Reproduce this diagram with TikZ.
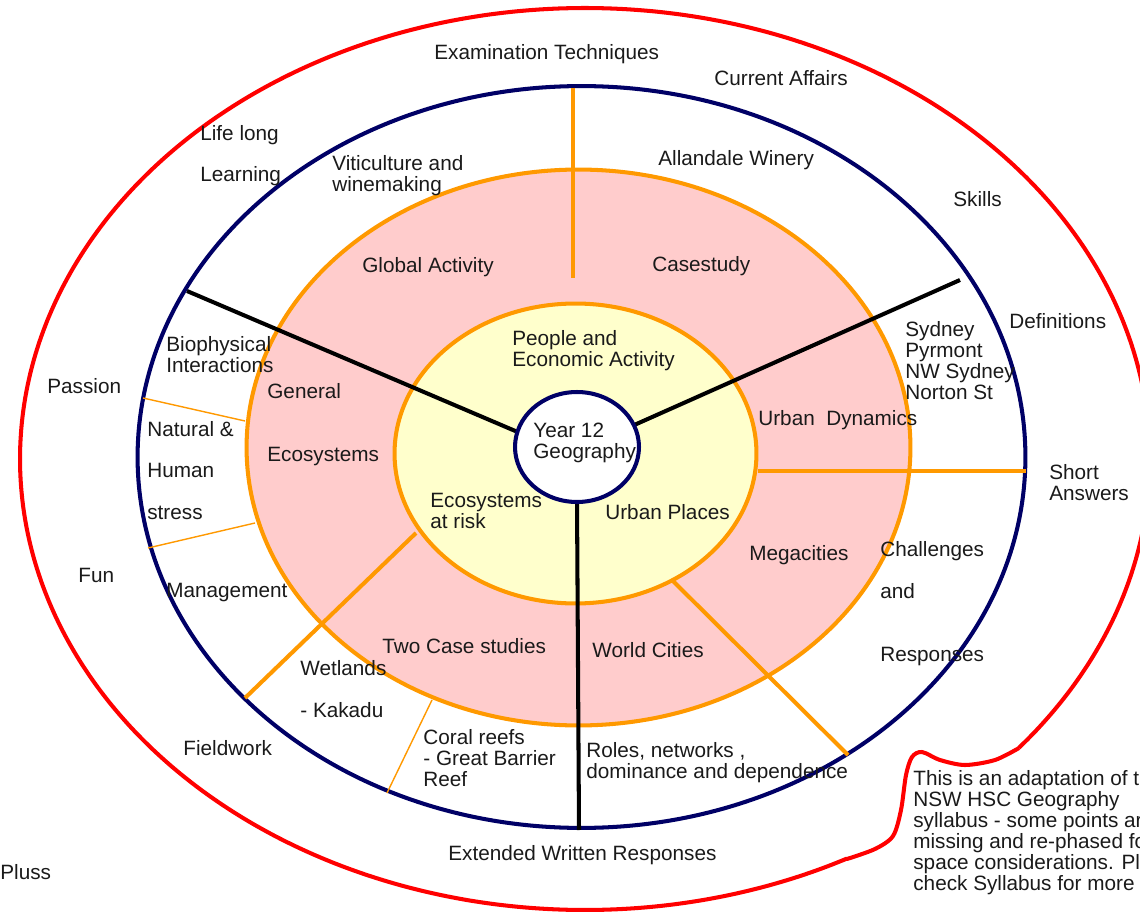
\documentclass[tikz,border=0pt]{standalone}
\usepackage{fontspec}
\setmainfont{Liberation Sans}
\definecolor{redline}{HTML}{FF0000}
\definecolor{navyline}{HTML}{000066}
\definecolor{orng}{HTML}{FF9900}
\definecolor{pinkf}{HTML}{FFCCCC}
\definecolor{yellowf}{HTML}{FFFFCC}
\definecolor{txt}{HTML}{1A1A1A}
\begin{document}
\begin{tikzpicture}[x=0.02cm,y=-0.02cm,
  lbl/.style={anchor=west, inner sep=0pt, align=left, text=txt,
    font=\fontsize{11.8}{12}\selectfont, text height=8.45pt, text depth=0pt},
  ring/.style={line width=2.3pt},
  spoke/.style={black, line width=2.3pt},
  divider/.style={orng, line width=2.3pt},
  thindivider/.style={orng, line width=0.8pt}]
\useasboundingbox (0,0) rectangle (1140,912);
\clip (0,0) rectangle (1140,912);
% outer red boundary
\draw[redline, ring, line join=round]
  plot[domain=-39.8:297.6, samples=240, smooth] ({585+565*cos(\x)},{459-451*sin(\x)})
  -- plot[smooth] coordinates {(847,859) (875,849) (893,836) (901,810) (906,775) (912,757) (922,752) (940,760) (965,765) (995,760) (1019,748)};
% rings
\draw[navyline, ring, fill=white] (581.5,457) ellipse [x radius=8.88cm, y radius=7.42cm];
\draw[orng, ring, fill=pinkf] (578.5,447.5) ellipse [x radius=6.64cm, y radius=5.56cm];
\draw[orng, ring, fill=yellowf] (575.5,453.5) ellipse [x radius=3.62cm, y radius=3.0cm];
% named end points
\coordinate (ta) at (573,88);   \coordinate (tb) at (573,278);
\coordinate (ra) at (758,471);  \coordinate (rb) at (1026,471);
\coordinate (la) at (416,533);  \coordinate (lb) at (245,698);
\coordinate (ma) at (672,580);  \coordinate (mb) at (848,755);
\coordinate (p1a) at (143,398); \coordinate (p1b) at (245,421);
\coordinate (p2a) at (148,548); \coordinate (p2b) at (255,523);
\coordinate (p3a) at (432,700); \coordinate (p3b) at (387,793);
\coordinate (s1a) at (187,291); \coordinate (s1b) at (520,433);
\coordinate (s2a) at (960,280); \coordinate (s2b) at (632,426);
\coordinate (s3a) at (577,500); \coordinate (s3b) at (579,830);
% orange dividers
\draw[divider] (ta) -- (tb);
\draw[divider] (ra) -- (rb);
\draw[divider] (la) -- (lb);
\draw[divider] (ma) -- (mb);
\draw[thindivider] (p1a) -- (p1b);
\draw[thindivider] (p2a) -- (p2b);
\draw[thindivider] (p3a) -- (p3b);
% black spokes
\draw[spoke] (s1a) -- (s1b);
\draw[spoke] (s2a) -- (s2b);
\draw[spoke] (s3b) -- (s3a);
% centre
\draw[navyline, ring, fill=white] (577,447) ellipse [x radius=1.24cm, y radius=1.1cm];
% labels (multi-line nodes are placed by their last line)
\node[lbl] (t1) at (434,52) {Examination Techniques};
\node[lbl] (t2) at (714,78) {Current Affairs};
\node[lbl] (t3) at (200,133) {Life long};
\node[lbl] (t4) at (200,174) {Learning};
\node[lbl] (t5) at (332,184) {Viticulture and\\winemaking};
\node[lbl] (t6) at (658,158) {Allandale Winery};
\node[lbl] (t7) at (953,199) {Skills};
\node[lbl] (t8) at (362,265) {Global Activity};
\node[lbl] (t9) at (652,264) {Casestudy};
\node[lbl] (t10) at (1009,321) {Definitions};
\node[lbl] (t11) at (905,392) {Sydney\\Pyrmont\\NW Sydney\\Norton St};
\node[lbl] (t12) at (512,359) {People and\\Economic Activity};
\node[lbl] (t13) at (166,365) {Biophysical\\Interactions};
\node[lbl] (t14) at (47,386) {Passion};
\node[lbl] (t15) at (267,391) {General};
\node[lbl] (t16) at (533,451) {Year 12\\Geography};
\node[lbl] (t17) at (758,418) {Urban\ \ Dynamics};
\node[lbl] (t18) at (147,429) {Natural \&};
\node[lbl] (t19) at (147,470) {Human};
\node[lbl] (t20) at (147,512) {stress};
\node[lbl] (t21) at (267,454) {Ecosystems};
\node[lbl] (t22) at (1049,493) {Short\\Answers};
\node[lbl] (t23) at (430,521) {Ecosystems\\at risk};
\node[lbl] (t24) at (605,512) {Urban Places};
\node[lbl] (t25) at (880,549) {Challenges};
\node[lbl] (t26) at (880,591) {and};
\node[lbl] (t27) at (880,654) {Responses};
\node[lbl] (t28) at (749,553) {Megacities};
\node[lbl] (t29) at (78,575) {Fun};
\node[lbl] (t30) at (166,590) {Management};
\node[lbl] (t31) at (382,646) {Two Case studies};
\node[lbl] (t32) at (592,650) {World Cities};
\node[lbl] (t33) at (300,668) {Wetlands};
\node[lbl] (t34) at (300,710) {- Kakadu};
\node[lbl] (t35) at (183,748) {Fieldwork};
\node[lbl] (t36) at (423,779) {Coral reefs\\- Great Barrier\\Reef};
\node[lbl] (t37) at (586,771) {Roles, networks ,\\dominance and dependence};
\node[lbl] (t38) at (448,853) {Extended Written Responses};
\node[lbl] (t39) at (0,872) {Pluss};
\node[lbl] (t40) at (913,883) {This is an adaptation of the\\NSW HSC Geography\\syllabus - some points are\\missing and re-phased for\\space considerations. Please\\check Syllabus for more};
\end{tikzpicture}
\end{document}
